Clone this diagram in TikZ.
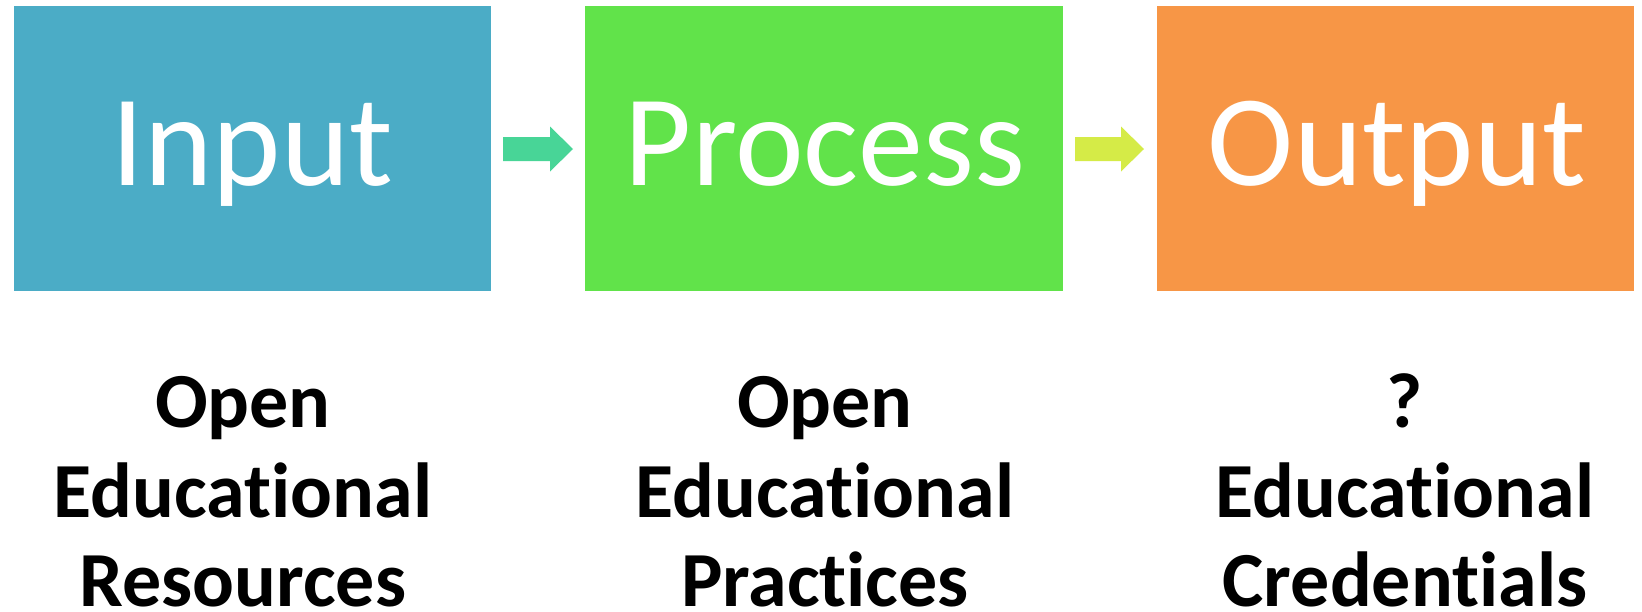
\documentclass[tikz,border=0pt]{standalone}
\usepackage{fontspec}
\setmainfont[Ligatures=NoCommon]{Carlito}
\definecolor{cinput}{HTML}{4BACC6}
\definecolor{cprocess}{HTML}{61E34A}
\definecolor{coutput}{HTML}{F79646}
\definecolor{carrowa}{HTML}{48D597}
\definecolor{carrowb}{HTML}{D5EB47}
\tikzset{
  stagebox/.style={draw=none, inner sep=0pt},
  stagetext/.style={text=white, inner sep=0pt, anchor=base, font=\fontsize{130}{150}\selectfont},
  labeltext/.style={text=black, inner sep=0pt, anchor=base, font=\fontsize{78}{90}\selectfont\bfseries},
}
\begin{document}
\begin{tikzpicture}[x=1pt,y=-1pt]
\useasboundingbox (0,0) rectangle (1642,611);
% boxes
\fill[cinput]   (14,6)   rectangle (491,291);
\fill[cprocess] (585,6)  rectangle (1063,291);
\fill[coutput]  (1157,6) rectangle (1634,291);
% titles
\node[stagetext] (tin)  at (252.5,185) {Input};
\node[stagetext] (tpr)  at (825,185) {Process};
\node[stagetext] (tout) at (1397,185) {Output};
% arrows
\fill[carrowa] (503,137) -- (550,137) -- (550,126.5) -- (573,149) -- (550,171.5) -- (550,161) -- (503,161) -- cycle;
\fill[carrowb] (1075,137) -- (1121,137) -- (1121,126.5) -- (1144,149) -- (1121,171.5) -- (1121,161) -- (1075,161) -- cycle;
% labels
\node[labeltext] (l1a) at (243,427) {Open};
\node[labeltext] (l1b) at (243,517) {Educational};
\node[labeltext] (l1c) at (243,606) {Resources};
\node[labeltext] (l2a) at (825,427) {Open};
\node[labeltext] (l2b) at (825,517) {Educational};
\node[labeltext] (l2c) at (825,606) {Practices};
\node[labeltext] (l3a) at (1405,427) {?};
\node[labeltext] (l3b) at (1405,517) {Educational};
\node[labeltext] (l3c) at (1405,606) {Credentials};
\end{tikzpicture}
\end{document}
